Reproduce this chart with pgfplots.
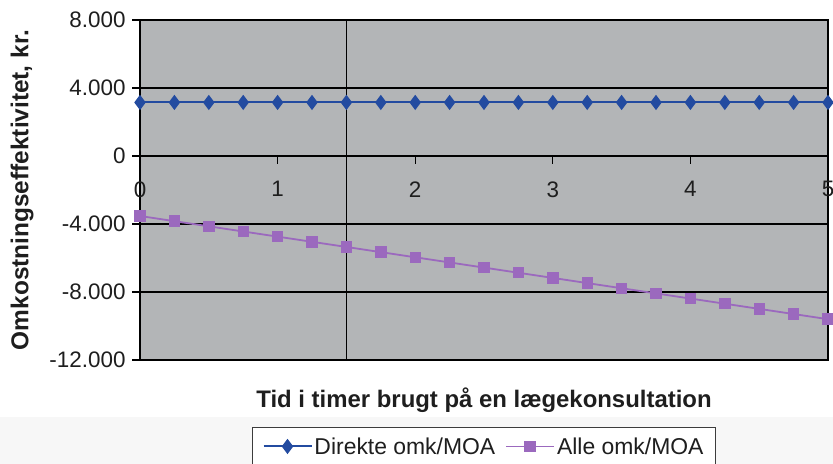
\documentclass[border=0pt]{standalone}
\usepackage{fontspec}
\setmainfont{Liberation Sans}
\usepackage{pgfplots}
\pgfplotsset{compat=1.18}
\definecolor{plotgray}{RGB}{179,181,183}
\definecolor{dblue}{RGB}{35,75,160}
\definecolor{lpurple}{RGB}{155,105,190}
\definecolor{txt}{RGB}{30,30,30}
\begin{document}
\begin{tikzpicture}[x=1bp,y=1bp]
\useasboundingbox (0,0) rectangle (833,464);
\fill[gray!6] (0,0) rectangle (833,47);
\begin{axis}[
  at={(140bp,104bp)}, anchor=south west,
  scale only axis, width=688bp, height=340bp,
  xmin=0, xmax=5, ymin=-12000, ymax=8000,
  axis x line=middle, axis y line=left,
  axis line style={-, black, line width=1.6bp},
  x axis line style={-}, y axis line style={-},
  axis background/.style={fill=plotgray, draw=black, line width=1.6bp},
  hide obscured x ticks=false, hide obscured y ticks=false,
  scaled y ticks=false, scaled x ticks=false,
  xtick={0,1,2,3,4,5}, xticklabels={0,1,2,3,4,5},
  ytick={-12000,-8000,-4000,0,4000,8000},
  yticklabels={-12.000,-8.000,-4.000,0,4.000,8.000},
  tick align=outside, major tick length=8bp,
  tick style={black, line width=1.3bp},
  ymajorgrids, major grid style={black, line width=1.8bp},
  tick label style={font=\fontsize{22.5}{26}\selectfont, text=txt},
  xticklabel style={yshift=-14bp},
  yticklabel style={xshift=-3bp},
  every axis x label/.style={at={(axis description cs:0.5,0)}, anchor=base, yshift=-48bp,
     font=\bfseries\fontsize{24}{28}\selectfont, text=txt},
  every axis y label/.style={at={(axis description cs:-0.1715,0.5)}, anchor=center, rotate=90,
     font=\bfseries\fontsize{24.5}{28}\selectfont, text=txt},
  xlabel={Tid i timer brugt på en lægekonsultation},
  ylabel={Omkostningseffektivitet, kr.},
  legend columns=2,
  legend style={at={(0.5,-0.197)}, anchor=north, draw={rgb,255:red,60;green,60;blue,60}, line width=0.9bp,
     fill=white, font=\fontsize{23}{27}\selectfont, text=txt, inner xsep=10bp, inner ysep=8bp,
     /tikz/every even column/.append style={column sep=8bp}},
  legend image code/.code={\draw[mark repeat=2,mark phase=2,#1] plot coordinates {(0bp,0bp) (24bp,0bp) (48bp,0bp)};},
  clip=false,
]
\addplot[black, line width=1.8bp, forget plot] coordinates {(1.5,-12000)(1.5,8000)};
\addplot[dblue, line width=2bp, mark=diamond*, mark size=6bp, mark options={solid, fill=dblue}]
coordinates {(0,3150)(0.25,3150)(0.5,3150)(0.75,3150)(1,3150)(1.25,3150)(1.5,3150)(1.75,3150)(2,3150)(2.25,3150)(2.5,3150)(2.75,3150)(3,3150)(3.25,3150)(3.5,3150)(3.75,3150)(4,3150)(4.25,3150)(4.5,3150)(4.75,3150)(5,3150)};
\addlegendentry{Direkte omk/MOA}
\addplot[lpurple, line width=1.8bp, mark=square*, mark size=4.8bp, mark options={solid, fill=lpurple}]
coordinates {(0,-3530)(0.25,-3834)(0.5,-4137)(0.75,-4441)(1,-4744)(1.25,-5048)(1.5,-5351)(1.75,-5655)(2,-5958)(2.25,-6262)(2.5,-6565)(2.75,-6869)(3,-7172)(3.25,-7476)(3.5,-7779)(3.75,-8083)(4,-8386)(4.25,-8690)(4.5,-8993)(4.75,-9297)(5,-9600)};
\addlegendentry{Alle omk/MOA}
\end{axis}
\end{tikzpicture}
\end{document}
